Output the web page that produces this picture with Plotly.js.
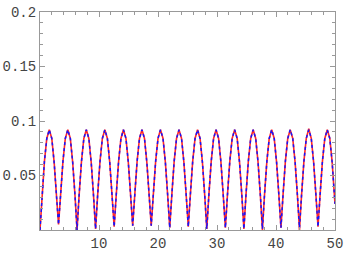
<!DOCTYPE html>
<html>
<head>
<meta charset="utf-8">
<script src="https://cdn.plot.ly/plotly-3.0.1.min.js"></script>
<style>html,body{margin:0;padding:0;background:#fff;}#chart{width:345px;height:254px;}</style>
</head>
<body>
<div id="chart"></div>
<script>
var xValues = [
  0, 0.35, 0.75, 1.15, 1.57, 2.0, 2.4, 2.8,
  3.14, 3.49, 3.89, 4.29, 4.71, 5.14, 5.54, 5.94,
  6.28, 6.63, 7.03, 7.43, 7.85, 8.28, 8.68, 9.08,
  9.42, 9.77, 10.17, 10.57, 10.99, 11.42, 11.82, 12.22,
  12.57, 12.92, 13.32, 13.72, 14.14, 14.57, 14.97, 15.37,
  15.71, 16.06, 16.46, 16.86, 17.28, 17.71, 18.11, 18.51,
  18.85, 19.2, 19.6, 20.0, 20.42, 20.85, 21.25, 21.65,
  21.99, 22.34, 22.74, 23.14, 23.56, 23.99, 24.39, 24.79,
  25.13, 25.48, 25.88, 26.28, 26.7, 27.13, 27.53, 27.93,
  28.27, 28.62, 29.02, 29.42, 29.84, 30.27, 30.67, 31.07,
  31.42, 31.77, 32.17, 32.57, 32.99, 33.42, 33.82, 34.22,
  34.56, 34.91, 35.31, 35.71, 36.13, 36.56, 36.96, 37.36,
  37.7, 38.05, 38.45, 38.85, 39.27, 39.7, 40.1, 40.5,
  40.84, 41.19, 41.59, 41.99, 42.41, 42.84, 43.24, 43.64,
  43.98, 44.33, 44.73, 45.13, 45.55, 45.98, 46.38, 46.78,
  47.12, 47.47, 47.87, 48.27, 48.69, 49.12, 49.52, 50
];
var redValues = [
  0, 0.032, 0.063, 0.084, 0.092, 0.084, 0.062, 0.031,
  0.005, 0.032, 0.063, 0.084, 0.092, 0.084, 0.062, 0.031,
  0, 0.032, 0.063, 0.084, 0.092, 0.084, 0.062, 0.031,
  0.001, 0.032, 0.063, 0.084, 0.092, 0.084, 0.062, 0.031,
  0.003, 0.032, 0.063, 0.084, 0.092, 0.084, 0.062, 0.031,
  0.004, 0.032, 0.063, 0.084, 0.092, 0.084, 0.062, 0.031,
  0.004, 0.032, 0.063, 0.084, 0.092, 0.084, 0.062, 0.031,
  0.002, 0.032, 0.063, 0.084, 0.092, 0.084, 0.062, 0.031,
  0.003, 0.032, 0.063, 0.084, 0.092, 0.084, 0.062, 0.031,
  0.001, 0.032, 0.063, 0.084, 0.092, 0.084, 0.062, 0.031,
  0.002, 0.032, 0.063, 0.084, 0.092, 0.084, 0.062, 0.031,
  0.001, 0.032, 0.063, 0.084, 0.092, 0.084, 0.062, 0.031,
  0, 0.032, 0.063, 0.084, 0.092, 0.084, 0.062, 0.031,
  0.002, 0.032, 0.063, 0.084, 0.092, 0.084, 0.062, 0.031,
  0, 0.032, 0.063, 0.084, 0.093, 0.084, 0.062, 0.031,
  0.003, 0.032, 0.063, 0.084, 0.092, 0.084, 0.062, 0.024
];
var blueValues = [
  0, 0.032, 0.063, 0.084, 0.092, 0.084, 0.062, 0.031,
  0.005, 0.032, 0.063, 0.084, 0.092, 0.084, 0.062, 0.031,
  0, 0.032, 0.063, 0.084, 0.092, 0.084, 0.062, 0.031,
  0.001, 0.032, 0.063, 0.084, 0.092, 0.084, 0.062, 0.031,
  0.003, 0.032, 0.063, 0.084, 0.092, 0.084, 0.062, 0.031,
  0.004, 0.032, 0.063, 0.084, 0.092, 0.084, 0.062, 0.031,
  0.004, 0.032, 0.063, 0.084, 0.092, 0.084, 0.062, 0.031,
  0.002, 0.032, 0.063, 0.084, 0.092, 0.084, 0.062, 0.031,
  0.003, 0.032, 0.063, 0.084, 0.092, 0.084, 0.062, 0.031,
  0.001, 0.032, 0.063, 0.084, 0.092, 0.084, 0.062, 0.031,
  0.002, 0.032, 0.063, 0.084, 0.092, 0.084, 0.062, 0.031,
  0.001, 0.032, 0.063, 0.084, 0.092, 0.084, 0.062, 0.031,
  0.001, 0.032, 0.063, 0.084, 0.092, 0.084, 0.062, 0.031,
  0.002, 0.032, 0.063, 0.084, 0.092, 0.084, 0.062, 0.031,
  0.002, 0.032, 0.063, 0.084, 0.092, 0.084, 0.062, 0.031,
  0.003, 0.032, 0.063, 0.084, 0.092, 0.084, 0.062, 0.024
];
var xTickVals = [10, 20, 30, 40, 50];
var xTickText = ['10', '20', '30', '40', '50'];
var yTickVals = [0.05, 0.1, 0.15, 0.2];
var yTickText = ['0.05', '0.1', '0.15', '0.2'];

var frameColor = '#999999';
var traces = [
  {x: xValues, y: redValues, type: 'scatter', mode: 'lines',
   line: {color: 'rgb(255,40,40)', width: 1.6}, hoverinfo: 'skip'},
  {x: xValues, y: blueValues, type: 'scatter', mode: 'lines',
   line: {color: 'rgb(20,20,255)', width: 1.5, dash: '3px,3px'}, hoverinfo: 'skip'}
];
var axisCommon = {
  showgrid: false, zeroline: false, showline: true, linecolor: frameColor, linewidth: 1,
  mirror: 'ticks', ticks: 'inside', ticklen: 5, tickcolor: frameColor, tickwidth: 1,
  tickfont: {family: 'Liberation Mono, monospace', size: 14, color: '#444444'},
  tickmode: 'array', fixedrange: true
};
var layout = {
  width: 345, height: 254,
  margin: {l: 40, r: 10, t: 12, b: 24, pad: 0},
  paper_bgcolor: '#ffffff', plot_bgcolor: '#ffffff',
  showlegend: false,
  xaxis: Object.assign({}, axisCommon, {
    range: [0, 50], tickvals: xTickVals, ticktext: xTickText,
    minor: {tickmode: 'linear', tick0: 0, dtick: 2, ticks: 'inside', ticklen: 3, tickcolor: frameColor, showgrid: false}
  }),
  yaxis: Object.assign({}, axisCommon, {
    range: [0, 0.2], tickvals: yTickVals, ticktext: yTickText,
    minor: {tickmode: 'linear', tick0: 0, dtick: 0.01, ticks: 'inside', ticklen: 3, tickcolor: frameColor, showgrid: false}
  })
};
Plotly.newPlot('chart', traces, layout, {staticPlot: true, displayModeBar: false});
</script>
</body>
</html>
